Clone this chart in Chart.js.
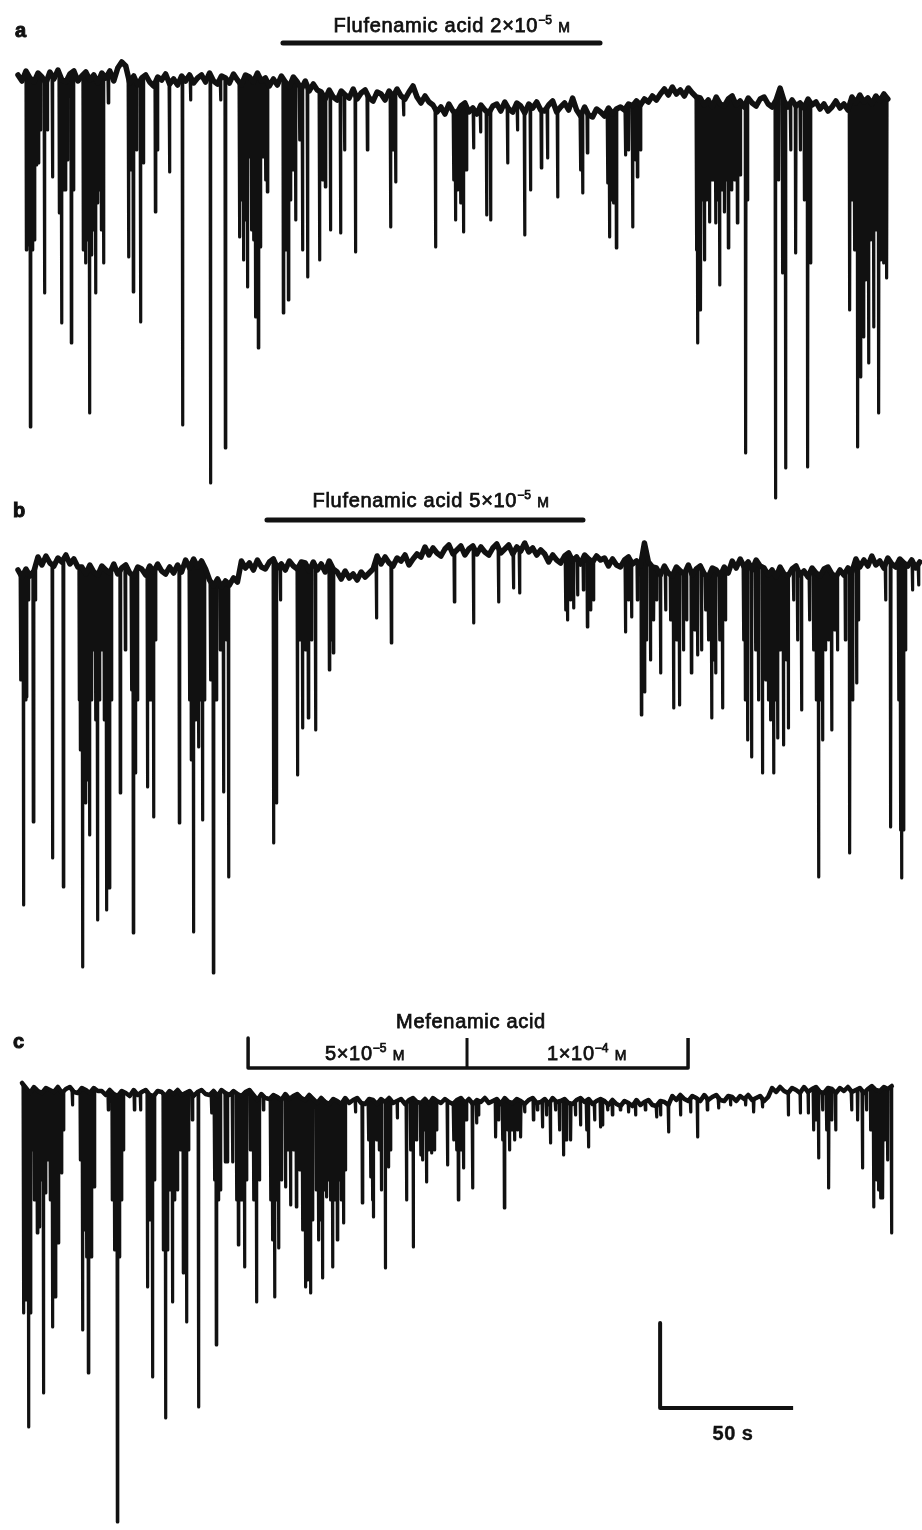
<!DOCTYPE html>
<html><head><meta charset="utf-8">
<script src="https://cdn.jsdelivr.net/npm/chart.js@4.4.1/dist/chart.umd.min.js"></script>
<style>
html,body{margin:0;padding:0;background:#fff;}
#wrap{position:relative;width:922px;height:1530px;overflow:hidden;font-family:"Liberation Sans",Arial,sans-serif;color:#111;}
canvas{position:absolute;left:0;}
.lbl{position:absolute;white-space:nowrap;font-size:20px;line-height:20px;letter-spacing:0.7px;transform:translateX(-50%);-webkit-text-stroke:0.75px #111;}
.pl{position:absolute;font-weight:bold;font-size:20px;line-height:20px;-webkit-text-stroke:1px #111;}
.sp{font-size:12px;position:relative;top:-8px;letter-spacing:0;}
.mu{font-size:14px;}
.bold{font-weight:bold;-webkit-text-stroke:0.4px #111;}
</style></head>
<body><div id="wrap">
<canvas id="cA"></canvas><canvas id="cB"></canvas><canvas id="cC"></canvas>
<div class="pl" style="left:15px;top:20px">a</div>
<div class="pl" style="left:13px;top:500px">b</div>
<div class="pl" style="left:13px;top:1031px">c</div>
<div class="lbl" style="left:452px;top:15px">Flufenamic acid 2×10<span class="sp">−5</span> <span class="mu">M</span></div>
<div class="lbl" style="left:431px;top:490px">Flufenamic acid 5×10<span class="sp">−5</span> <span class="mu">M</span></div>
<div class="lbl" style="left:471px;top:1011px">Mefenamic acid</div>
<div class="lbl" style="left:365px;top:1043px">5×10<span class="sp">−5</span> <span class="mu">M</span></div>
<div class="lbl" style="left:587px;top:1043px">1×10<span class="sp">−4</span> <span class="mu">M</span></div>
<div class="lbl bold" style="left:733px;top:1423px;letter-spacing:0.5px">50 s</div>
</div>
<script>
// ---------- DATA (time in s, current in arbitrary units; 0 = resting level) ----------
const STEP = 1.5; // s between baseline samples
const startA = 0, startB = 0, startC = 1.5;

const baselineA = [5,-1,9,2,-2,7,3,-3,8,1,10,0,-2,6,9,-1,4,8,0,5,-3,7,2,9,-1,
12,18,14,
-3,4,-5,2,5,-2,-6,3,0,6,-4,1,-5,4,-1,5,-3,2,
5,-2,7,-1,-4,4,2,-3,6,0,-5,5,3,-2,7,-1,
2,-6,1,-5,4,-2,-7,3,
-2,-9,-1,-11,-4,-10,
-12,-19,-10,-17,-20,-11,-15,-18,-9,-19,-13,-10,-18,-21,-12,-14,-20,-11,-17,-9,-16,-19,-12,
-6,
-17,-23,-16,-22,
-25,-32,-27,-34,-24,-31,-33,-26,-23,-32,-28,-34,-25,-30,-33,-26,
-24,-31,-22,-29,-32,-23,-26,-33,-24,-28,-22,-30,-31,-25,-21,-32,-27,-23,-30,
-18,
-30,-36,-27,-35,-37,-29,-32,-36,-28,-34,-29,
-27,-30,-24,-26,-21,-25,-19,-22,-16,-20,-14,
-9,-15,-7,-14,-10,-16,-8,-13,-17,
-18,-25,-20,-27,-17,-24,-26,-19,-16,-25,-21,-27,-18,-23,-26,-19,-17,-24,-27,-20,
-8,
-21,-27,-20,-26,-23,-28,-19,-25,
-22,-29,-24,-31,-27,-21,-28,-24,-30,
-17,-23,-15,-22,-18,-24,-16,-21,-14,-19];

const spikesA = [[3.0,-170],[3.8,-165],[4.5,-347],[5.3,-170],[6.0,-160],[6.8,-85],[7.5,-83],[8.3,-50],[9.8,-213],[10.9,-50],[12.8,-97],
[15.4,-133],[16.2,-243],[16.9,-110],[17.7,-110],[18.4,-80],[19.9,-263],[20.7,-110],
[24.4,-170],[25.2,-183],[25.9,-160],[26.7,-333],[27.4,-175],[28.2,-150],[29.0,-213],[29.7,-123],[30.5,-110],[31.2,-150],[32.0,-183],
[33.8,-23],[41.4,-177],[42.1,-90],[43.2,-212],[44.4,-70],[45.9,-242],[47.0,-83],
[51.5,-132],[52.3,-70],[56.8,-92],[61.7,-345],[64.7,-20],[72.2,-403],[76.0,-20],[77.8,-368],
[83.1,-157],[83.8,-120],[84.6,-180],[85.4,-140],[86.1,-207],[86.9,-77],[87.6,-150],[88.4,-160],[89.1,-237],[90.2,-268],[91.0,-167],[92.1,-77],[92.9,-100],[93.6,-112],
[99.6,-233],[100.4,-170],[101.5,-220],[102.3,-120],[103.0,-90],[104.2,-140],[105.7,-60],[106.8,-170],[108.7,-197],
[113.2,-180],[114.3,-100],[115.4,-107],[117.3,-150],[121.1,-153],[122.6,-70],[126.7,-172],[131.2,-70],[139.9,-147],[141.0,-70],[141.8,-102],[144.8,-35],[156.8,-167],[163.6,-100],[164.3,-140],[165.1,-110],[166.2,-123],[167.3,-152],[168.4,-90],[171.1,-68],[173.7,-52],[176.0,-135],[177.5,-140],[183.9,-83],[187.6,-50],[190.3,-155],[192.5,-110],[196.6,-88],[198.9,-78],[202.7,-117],[211.3,-90],[212.1,-113],[213.9,-73],
[221.5,-103],[222.2,-157],[223.0,-120],[223.7,-123],[224.8,-168],[228.2,-75],[229.4,-70],[230.9,-147],[232.0,-80],[232.7,-97],[233.9,-70],
[254.9,-170],[255.3,-263],[255.9,-150],[256.5,-230],[257.2,-120],[257.9,-180],[258.7,-120],[259.8,-142],[260.9,-100],[262.1,-143],[262.8,-120],[263.6,-205],[264.3,-110],[265.5,-132],[266.2,-100],[266.9,-168],[268.1,-110],[269.2,-100],[270.3,-143],[271.5,-95],[273.4,-373],[274.1,-120],
[284.6,-418],[285.8,-100],[287.3,-193],[288.4,-388],[290.3,-70],[292.2,-173],[294.0,-70],[295.5,-120],[296.7,-387],[297.8,-183],
[312.5,-230],[313.2,-120],[314.3,-170],[315.5,-367],[316.6,-297],[317.7,-257],[318.5,-200],[319.6,-283],[320.4,-160],[321.5,-247],[322.2,-150],[323.4,-333],[324.1,-180],[325.2,-183],[326.4,-198]];

const baselineB = [-5,-12,-4,-11,-6,
8,0,9,2,-1,7,3,10,1,6,-2,
-2,-9,0,-7,-10,-1,-5,-8,1,-9,-3,0,-8,-11,-2,-4,-10,-1,-7,1,-6,-9,-2,-8,0,-7,
5,-3,6,-2,4,-4,
-15,-21,-14,-22,-16,-20,-13,-17,
4,-3,2,-5,5,-2,-4,3,6,-3,1,-5,4,-1,-4,3,
2,-6,3,-5,1,-7,4,-4,
-7,-14,-6,-13,-9,-15,-7,-12,-8,-4,
9,1,8,2,-1,7,4,10,0,6,11,8,
18,10,17,12,9,16,20,11,15,19,10,16,
19,11,18,13,10,17,21,12,16,20,11,18,14,22,13,17,10,15,
11,3,10,5,2,9,12,4,8,1,10,6,3,9,5,
7,-1,6,0,-2,5,8,1,4,-1,22,3,-2,
-3,-10,-1,-8,-11,-2,-6,-9,0,-10,-4,-1,-9,-12,-3,-5,-11,-2,-8,
4,-3,6,-2,3,-5,5,-1,
-3,-10,-5,-12,-2,-9,-11,-4,-1,-10,-6,-12,-3,-8,-11,-4,-2,-9,-12,-5,-10,-3,-7,
6,-2,5,-1,9,0,4,-3,7,1,-2,6,2,-1,5,-3,3];

const spikesB = [[0.8,-115],[1.5,-55],[1.9,-340],[2.6,-135],[3.0,-132],[3.8,-35],[5.6,-257],[6.4,-35],[12.8,-293],[16.9,-322],
[22.9,-135],[23.3,-185],[24.1,-402],[24.8,-205],[25.2,-238],[25.9,-215],[26.7,-270],[27.4,-135],[28.2,-85],[29.0,-155],[29.7,-355],[30.5,-135],[31.2,-85],[32.3,-155],[33.1,-345],[33.8,-215],[34.2,-323],[35.0,-135],
[38.3,-228],[40.2,-85],[42.5,-125],[43.2,-368],[44.0,-208],[44.7,-135],[48.5,-222],[49.6,-135],[50.8,-252],[51.5,-75],
[60.5,-258],[64.3,-135],[65.0,-195],[65.8,-367],[66.6,-155],[67.7,-182],[68.4,-135],[69.2,-255],[69.9,-135],[72.2,-115],[73.3,-408],[74.4,-135],[75.9,-85],[77.1,-227],[78.2,-75],[79.0,-312],
[95.9,-278],[97.0,-238],[98.5,-35],[104.9,-210],[106.0,-75],[106.8,-163],[107.9,-85],[109.0,-153],[110.2,-75],[111.7,-165],[116.9,-105],[117.7,-75],[118.4,-88],[134.6,-53],[140.2,-78],[163.9,-37],[171.1,-58],[180.5,-37],[186.1,-23],[188.4,-28],[205.7,-45],[206.4,-55],[207.6,-35],[208.7,-43],[210.2,-30],[212.4,-25],[213.9,-62],[215.1,-45],[216.2,-35],
[228.2,-67],[229.4,-35],[230.5,-52],[232.7,-35],[234.2,-150],[235.4,-127],[236.1,-75],[237.6,-95],[238.8,-55],[239.9,-35],[241.4,-108],[243.3,-45],[245.2,-55],[246.3,-143],[247.4,-75],[248.5,-140],[250.0,-85],[251.2,-55],[253.0,-108],[254.2,-65],[255.3,-90],[256.8,-85],[258.3,-45],[259.4,-75],[260.6,-153],[261.3,-95],[262.1,-108],[263.6,-75],[264.7,-143],[265.8,-55],
[272.6,-75],[273.3,-135],[274.1,-175],[275.6,-192],[277.1,-85],[278.2,-135],[279.7,-208],[280.9,-115],[282.0,-135],[282.8,-155],[283.9,-208],[284.6,-135],[285.4,-173],[286.5,-85],[287.6,-180],[288.8,-95],[289.5,-163],[291.4,-35],[292.9,-75],[294.4,-145],[297.4,-55],[298.9,-85],[300.0,-135],[300.8,-312],[301.6,-135],[302.3,-175],[303.4,-85],[304.6,-75],[305.7,-165],[306.8,-65],[307.9,-85],[310.9,-75],[312.5,-288],[313.6,-135],[315.1,-118],[315.8,-55],[326.0,-35],[327.9,-262],[330.9,-135],[331.6,-265],[332.0,-313],[332.7,-265],[333.5,-85],[336.1,-25],[338.4,-20]];

const baselineC = [12,
7,2,8,4,2,7,5,3,8,2,6,8,3,2,7,5,2,7,4,
4,0,5,1,-1,4,2,-1,5,0,3,5,0,-1,4,3,-1,4,1,5,0,2,4,-1,3,5,1,0,4,-1,5,2,0,4,1,-1,3,5,
0,-5,1,-3,-4,0,-2,-5,1,-4,-1,1,-3,-5,0,
-4,-8,-3,-7,-9,-4,-6,-9,-3,-8,-5,-3,-8,-9,-4,-5,-9,-4,-7,-3,-8,-6,-4,-9,-5,-3,-7,-8,-4,-9,-3,-6,-8,-4,-7,-9,-5,-3,-8,-4,-9,-5,-7,-3,-8,-6,-4,-9,-3,-7,-8,-4,-6,-9,-5,-3,-8,-7,-4,-9,-3,-7,-6,-4,-8,-9,-5,-3,-7,-4,-9,-6,-4,
-6,-10,-5,-9,-11,-6,-8,-11,-5,-10,-7,-5,-10,-11,-6,-7,-10,
-1,-5,0,-4,-6,-1,-3,-6,0,-5,-2,0,-5,-6,-1,-2,-6,-1,-4,0,-5,-3,-1,-6,-2,
7,3,8,4,2,7,5,2,8,3,6,8,3,2,7,6,2,7,4,8,3,5,7,2,6,9,5,4,8,6,9];

const spikesC = [[1.9,-218],[2.6,-205],[3.4,-105],[3.8,-332],[4.5,-218],[5.3,-55],[6.0,-105],[6.8,-85],[7.1,-138],[7.9,-132],[8.6,-85],[9.4,-298],[10.2,-98],[10.9,-65],[11.7,-38],[12.0,-105],[12.8,-232],[13.2,-135],[13.9,-202],[14.7,-105],[15.0,-148],[15.8,-75],[16.2,-78],[16.9,-35],[20.3,-10],[23.3,-65],[24.1,-235],[24.8,-135],[25.6,-162],[26.3,-278],[27.1,-145],[27.4,-162],[28.2,-92],[28.6,-92],[33.8,-15],[35.3,-105],[36.1,-155],[37.2,-427],[38.0,-162],[38.7,-105],[39.5,-55],[43.6,-15],[45.9,-15],[48.5,-192],[49.6,-125],[50.4,-282],[51.1,-85],[54.5,-155],[55.3,-323],[56.0,-155],[56.8,-95],[57.9,-207],[58.7,-105],[59.8,-95],[60.9,-55],[62.0,-178],[63.2,-227],[63.9,-55],[65.4,-25],[67.7,-312],[72.6,-18],[73.7,-85],[74.4,-250],[75.2,-105],[75.9,-95],[77.8,-67],[78.6,-67],[80.5,-67],[82.0,-105],[82.7,-150],[83.8,-105],[85.0,-172],[85.7,-85],[87.2,-55],[88.4,-105],[89.5,-207],[90.6,-85],[92.1,-15],[94.8,-105],[95.5,-145],[96.3,-202],[97.0,-105],[97.8,-153],[98.9,-85],[100.4,-92],[101.1,-55],[102.3,-110],[103.4,-55],[104.5,-112],[105.7,-75],[106.8,-135],[107.9,-192],[108.7,-185],[109.8,-198],[110.5,-125],
[112.0,-95],[112.8,-145],[113.6,-125],[114.3,-183],[115.1,-95],[115.8,-102],[116.6,-85],[117.3,-105],[118.1,-172],[118.8,-105],[119.9,-145],[120.7,-85],[121.4,-105],[122.2,-128],[123.0,-75],[126.7,-17],[129.3,-108],[131.6,-45],[132.4,-82],[133.1,-105],[133.5,-122],[134.6,-45],[135.7,-55],[136.5,-95],[138.0,-173],[139.1,-72],[139.9,-55],[142.5,-23],[145.9,-105],[147.4,-55],[148.5,-152],[149.6,-45],[151.2,-60],[151.9,-65],[152.7,-35],[153.4,-87],[154.2,-55],[155.3,-58],[156.4,-55],[157.2,-35],[161.3,-70],[163.6,-45],[164.7,-55],[165.4,-105],[166.2,-55],[167.3,-73],[168.4,-25],[170.7,-93],[172.2,-28],[173.0,-20],[179.4,-42],[180.5,-25],[182.0,-45],[182.7,-113],[183.9,-35],[184.6,-55],[185.4,-35],[186.5,-45],[187.6,-35],[188.8,-42],[190.3,-17],[193.6,-25],[195.1,-15],[197.0,-32],[198.5,-20],[200.0,-48],[201.9,-15],[203.4,-35],[204.9,-60],[206.0,-45],[207.6,-45],[209.4,-20],[211.3,-30],[213.6,-35],[214.3,-52],[216.6,-25],[218.8,-32],[219.6,-30],[221.5,-15],[223.3,-20],[226.3,-15],[229.4,-17],[232.0,-20],[235.7,-15],[239.9,-22],[241.4,-20],[244.4,-37],[248.9,-20],[252.7,-17],[255.3,-42],[259.0,-15],[263.2,-13],[267.7,-10],[273.4,-10],[276.4,-17],[279.7,-12],[289.5,-20],[294.0,-18],[297.0,-18],[298.9,-35],[300.0,-25],[300.8,-63],[302.3,-15],[303.8,-35],[304.6,-93],[305.7,-25],[307.2,-35],[313.2,-15],[315.5,-25],[317.3,-73],[318.8,-15],[320.4,-35],[321.5,-112],[322.6,-85],[323.4,-95],[324.1,-103],[324.9,-103],[325.6,-45],[326.7,-65],[328.2,-138]];

// drug application periods (s)
const drugA = [99.6, 218.8];   // Flufenamic acid 2x10-5 M
const drugB = [93.6, 212.4];   // Flufenamic acid 5x10-5 M
const mefLow = [86.5, 168.8];  // Mefenamic acid 5x10-5 M
const mefHigh = [168.8, 251.9];// Mefenamic acid 1x10-4 M
const scaleBarTime = 50;       // s
const scaleBarAmp = 85;        // current units

// ---------- LAYOUT ----------
const X = {min: -6.77, max: 339.85};
const P = {
  A: {top: 0, height: 520, yMin: -440, yMax: 80, bar: 37},
  B: {top: 480, height: 520, yMin: -435, yMax: 85, bar: 45},
  C: {top: 1000, height: 530, yMin: -435, yMax: 95, bar: 27, tick: 57, sbX: 241.4, sbY: -313}
};
const INK = '#111';
const SPIKE_W = 0.3;

function baselinePts(base, t0) {
  return base.map((v, i) => ({x: t0 + i * STEP, y: v}));
}

function buildTrace(base, t0, spikes) {
  const ev = [];
  base.forEach((v, i) => ev.push([t0 + i * STEP, [{x: t0 + i * STEP, y: v}]]));
  const baseAt = t => {
    const f = (t - t0) / STEP;
    const i = Math.max(0, Math.min(base.length - 2, Math.floor(f)));
    const r = Math.max(0, Math.min(1, f - i));
    return base[i] + (base[i + 1] - base[i]) * r;
  };
  spikes.forEach(([t, tip]) => {
    ev.push([t, [{x: t, y: baseAt(t)}, {x: t + SPIKE_W / 2, y: tip}, {x: t + SPIKE_W, y: baseAt(t + SPIKE_W)}]]);
  });
  ev.sort((a, b) => a[0] - b[0]);
  const out = []; let last = -Infinity;
  ev.forEach(e => e[1].forEach(p => { if (p.x >= last) { out.push(p); last = p.x; } }));
  return out;
}

function lineDs(data, w, cap) {
  return {data, borderColor: INK, borderWidth: w, borderCapStyle: cap || 'butt', borderJoinStyle: 'round',
          fill: false, pointRadius: 0, tension: 0};
}

function makeChart(id, p, datasets) {
  const cv = document.getElementById(id);
  cv.width = 922; cv.height = p.height;
  cv.style.width = '922px'; cv.style.height = p.height + 'px'; cv.style.top = p.top + 'px';
  return new Chart(cv, {
    type: 'line',
    data: {datasets},
    options: {
      responsive: false, animation: false, devicePixelRatio: 1, events: [],
      layout: {padding: 0},
      plugins: {legend: {display: false}, tooltip: {enabled: false}},
      scales: {
        x: {type: 'linear', display: false, min: X.min, max: X.max},
        y: {type: 'linear', display: false, min: p.yMin, max: p.yMax}
      },
      elements: {point: {radius: 0}, line: {tension: 0}}
    }
  });
}

makeChart('cA', P.A, [
  lineDs(baselinePts(baselineA, startA), 5.5, 'round'),
  lineDs(buildTrace(baselineA, startA, spikesA), 3.2),
  lineDs([{x: drugA[0], y: P.A.bar}, {x: drugA[1], y: P.A.bar}], 5, 'round')
]);
makeChart('cB', P.B, [
  lineDs(baselinePts(baselineB, startB), 5.5, 'round'),
  lineDs(buildTrace(baselineB, startB, spikesB), 3.2),
  lineDs([{x: drugB[0], y: P.B.bar}, {x: drugB[1], y: P.B.bar}], 5, 'round')
]);
makeChart('cC', P.C, [
  lineDs(baselinePts(baselineC, startC), 4.5, 'round'),
  lineDs(buildTrace(baselineC, startC, spikesC), 3.2),
  lineDs([{x: mefLow[0], y: P.C.tick}, {x: mefLow[0], y: P.C.bar}, {x: mefHigh[1], y: P.C.bar}, {x: mefHigh[1], y: P.C.tick}], 3.5),
  lineDs([{x: mefLow[1], y: P.C.bar}, {x: mefLow[1], y: P.C.tick}], 3),
  lineDs([{x: P.C.sbX, y: P.C.sbY + scaleBarAmp}, {x: P.C.sbX, y: P.C.sbY}, {x: P.C.sbX + scaleBarTime, y: P.C.sbY}], 4)
]);
</script>
</body></html>
